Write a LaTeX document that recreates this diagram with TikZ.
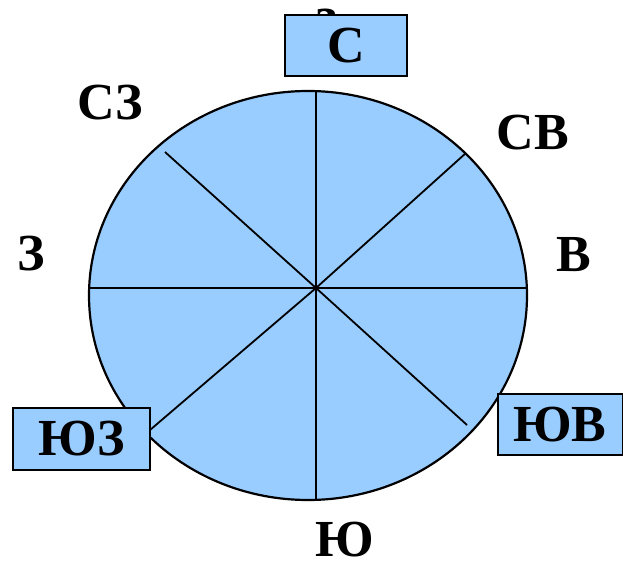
\documentclass[tikz,border=0pt]{standalone}
\usepackage{fontspec}
\setmainfont{Liberation Serif}
\usetikzlibrary{shapes.geometric}
\definecolor{skyfill}{HTML}{99CCFF}
\begin{document}
\begin{tikzpicture}[x=1pt,y=-1pt,
  lbl/.style={font=\fontsize{52}{60}\selectfont\bfseries, inner sep=0pt, anchor=center},
  dirbox/.style={lbl, draw=black, line width=2pt, fill=skyfill},
  ray/.style={line width=1.8pt, black}]
\useasboundingbox (0,0) rectangle (623,561);
% disc
\node[draw=black, line width=2.2pt, fill=skyfill, ellipse, minimum width=438pt, minimum height=409pt, inner sep=0pt] (disc) at (308,295.5) {};
\coordinate (c) at (316,288);
\coordinate (n) at (316,91);
\coordinate (s) at (316,500);
\coordinate (w) at (89,288);
\coordinate (e) at (527,288);
\coordinate (nw) at (165,152);
\coordinate (ne) at (466,153);
\coordinate (sw) at (150,430);
\coordinate (se) at (467,425);
\draw[ray] (n) -- (s);
\draw[ray] (w) -- (e);
\draw[ray] (nw) -- (c) -- (se);
\draw[ray] (ne) -- (c) -- (sw);
% hidden letter behind top box
\node[lbl] (hid) at (327,22) {з};
% boxes
\node[dirbox, minimum width=122pt, minimum height=61pt] (N) at (346,45.5) {С};
\node[dirbox, minimum width=137pt, minimum height=62pt] (SW) at (81.5,439) {ЮЗ};
\node[dirbox, minimum width=125pt, minimum height=61pt] (SE) at (560,424.5) {ЮВ};
% plain labels
\node[lbl] (NW) at (110,103) {СЗ};
\node[lbl] (W) at (31,254) {З};
\node[lbl] (NE) at (533,133) {СВ};
\node[lbl] (E) at (574,254.5) {В};
\node[lbl] (S) at (345,540) {Ю};
\end{tikzpicture}
\end{document}
